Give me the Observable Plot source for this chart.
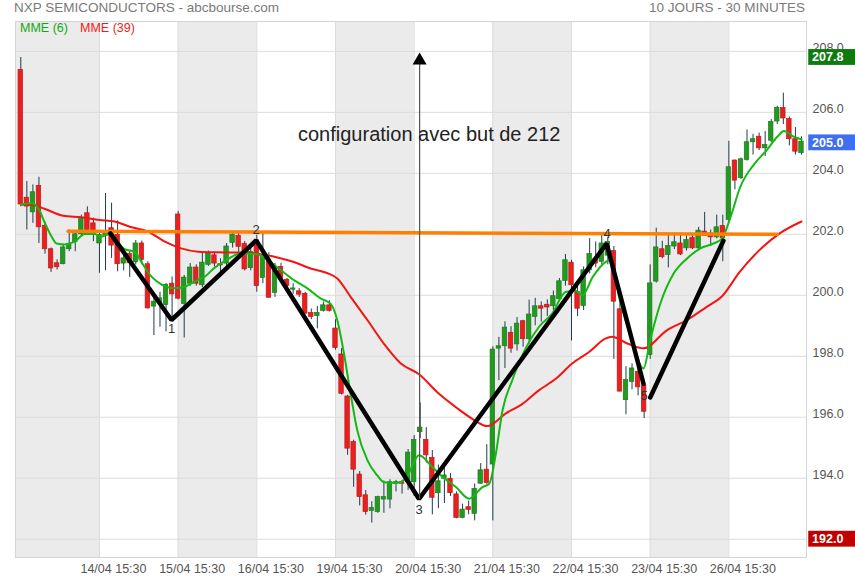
<!DOCTYPE html>
<html><head><meta charset="utf-8">
<script src="https://cdn.jsdelivr.net/npm/d3@7"></script>
<script src="https://cdn.jsdelivr.net/npm/@observablehq/plot@0.6"></script>
<style>
body{margin:0;background:#fff;font-family:Arial,"Liberation Sans",sans-serif;}
#wrap{position:relative;width:855px;height:580px;overflow:hidden;}
.ov{position:absolute;white-space:nowrap;line-height:1;}
</style></head>
<body><div id="wrap"></div>
<script>
// ---- data ----
const title = "NXP SEMICONDUCTORS - abcbourse.com";
const period = "10 JOURS - 30 MINUTES";
const legendLabels = ["MME (6)", "MME (39)"];
const note = "configuration avec but de 212";

const dayLabels = ["14/04 15:30","15/04 15:30","16/04 15:30","19/04 15:30","20/04 15:30","21/04 15:30","22/04 15:30","23/04 15:30","26/04 15:30"];
const dayStartBars = [13,26,39,52,65,78,91,104,117];
const shadedDays = [0,2,4,6,8];
const yTicks = [192,194,196,198,200,202,204,206,208];

const opens = [207.39,203.2,202.72,203.59,202.28,201.51,201.05,201.02,201.51,201.74,202.0,202.69,202.36,
201.7,201.95,202.2,201.98,201.04,201.35,201.08,201.7,201.02,199.63,199.75,199.68,200.38,
202.65,199.72,200.38,200.91,200.33,201.0,201.31,201.02,201.04,201.72,201.95,201.68,200.89,
201.8,200.57,201.17,200.08,200.93,200.51,200.19,200.13,200.05,199.42,199.32,199.49,199.67,
198.91,198.06,196.68,195.19,194.12,193.44,192.93,192.89,193.30,193.3,193.82,193.87,193.87,
193.87,195.51,195.26,194.67,193.51,193.98,193.98,193.47,192.7,193.05,192.83,193.82,194.28,
194.45,198.25,198.33,198.77,198.39,199.15,198.56,199.29,199.64,199.69,199.64,199.87,200.47,
201.07,200.11,199.65,200.82,201.2,201.1,201.3,201.45,199.54,196.56,197.16,197.49,197.05,
198.04,200.45,201.51,201.32,201.6,201.7,201.54,201.88,201.54,202.09,202.03,201.9,202.27,
202.47,204.42,203.84,204.44,205.02,205.2,204.82,205.07,205.7,206.14,205.78,205.12,204.66];
const highs = [207.8,203.73,203.62,203.87,202.4,201.55,201.16,201.65,202.14,202.09,202.63,202.9,202.53,
202.09,203.34,203.02,202.44,201.3,201.45,201.8,201.78,201.1,200.0,200.1,200.39,200.6,
202.75,200.65,201.04,201.0,201.37,201.45,201.42,201.2,201.7,202.05,202.05,201.76,201.65,
201.97,202.03,201.4,201.05,201.05,200.55,200.38,200.22,200.1,199.55,199.63,199.78,199.82,
199.2,198.25,196.72,195.25,194.22,193.6,193.23,193.41,193.91,193.95,193.93,193.93,194.94,
195.4,196.47,195.66,194.91,194.43,194.34,194.15,193.55,193.15,193.25,193.81,194.48,195.1,
198.31,198.62,199.13,198.97,199.27,199.18,199.84,199.9,199.78,199.85,200.14,200.55,201.34,
201.15,200.33,200.93,201.86,201.75,202.0,201.9,201.6,199.74,197.66,197.75,197.6,197.2,
201.0,202.2,201.77,202.0,202.0,202.0,201.98,202.0,202.23,202.72,202.14,202.63,202.63,
205.05,204.44,204.5,205.42,205.28,205.32,205.37,205.76,206.2,206.63,205.85,205.5,205.2];
const lows = [202.9,202.14,202.36,201.7,201.35,200.75,200.83,201.0,201.43,201.43,201.92,202.03,201.76,
200.72,200.81,201.21,200.77,200.8,200.58,201.0,201.0,199.55,198.68,198.95,198.8,199.24,
199.85,198.6,200.3,200.3,200.25,200.95,200.93,200.6,200.95,201.55,201.4,200.8,200.8,
200.1,200.38,199.9,199.93,200.5,200.2,200.03,199.93,199.38,199.2,198.9,199.45,199.45,
198.2,196.73,194.75,193.7,193.09,192.79,192.53,192.85,192.85,193.0,193.55,193.48,193.6,
193.4,195.3,194.5,192.8,193.0,193.17,193.4,192.67,192.67,192.8,192.6,193.8,193.8,
192.6,197.2,197.6,198.1,198.17,198.3,198.4,199.0,199.12,199.3,199.5,199.8,200.3,
198.5,199.3,199.5,200.7,200.9,201.0,201.0,197.9,196.84,196.08,196.9,196.7,195.96,
197.9,200.4,201.2,200.9,201.5,201.3,201.45,201.5,201.5,201.95,201.6,201.85,201.1,
202.4,203.46,203.8,204.4,204.6,204.75,204.55,205.0,205.6,205.6,204.9,204.6,204.6];
const closes = [202.98,202.91,203.38,202.23,201.51,200.88,200.92,201.57,201.69,202.0,202.53,202.14,201.98,
201.98,202.05,201.63,201.02,201.21,201.05,201.7,201.16,199.57,199.79,199.9,200.34,200.03,
199.89,200.58,200.91,200.38,201.07,201.37,201.04,200.98,201.6,201.99,201.59,200.85,201.42,
200.3,201.28,199.92,200.93,200.57,200.31,200.22,200.02,199.4,199.29,199.42,199.67,199.49,
198.27,196.77,194.97,194.28,193.38,192.89,193.02,193.38,193.38,193.87,193.87,193.82,194.84,
195.26,195.66,194.75,193.36,193.9,194.09,193.51,192.7,192.97,192.96,193.65,194.26,193.84,
198.22,198.33,198.94,198.25,199.07,198.56,199.37,199.64,199.56,199.6,199.97,200.46,201.15,
200.33,199.56,200.82,201.35,201.04,201.7,201.75,199.79,196.84,197.22,197.6,196.98,196.18,
200.39,201.57,201.25,201.62,201.74,201.34,201.81,201.54,202.12,201.95,201.9,202.23,201.87,
204.2,203.76,204.46,205.02,205.12,204.82,204.93,205.68,206.14,205.8,205.12,204.71,205.04];

// moving averages as drawn (bar position, value)
const mme6Bars = [0,1.8,2.9,4,5.1,5.9,7.3,8.9,10.6,12.2,13.3,14.7,15.5,17.2,18.8,19.9,21.6,23.2,25.4,27.1,28.7,30.4,32,34.1,36.3,39.1,40.7,43,45.2,47.4,49.6,51.2,52.3,53.4,54.5,55.6,57.3,58.9,60,62.2,63.6,65.8,68,69.7,71.9,74.1,76.3,77.4,78.5,79.6,81.2,83.4,85.6,87.8,90,91.7,92.8,94.5,96.6,97.4,99.1,100.8,102.9,104,105.7,107.9,110.1,112.3,114.5,115.9,117.3,118.9,121.1,123.3,125,126.1,127.7,129];
const mme6Values = [202.98,203.02,202.85,202.36,201.92,201.70,201.67,201.76,202.01,202.01,201.92,202.03,201.89,201.51,201.43,201.1,200.61,200.36,200.23,200.28,200.45,200.61,200.9,201.17,201.37,201.35,201.17,200.82,200.49,200.22,199.89,199.72,199.18,198.09,196.77,195.57,194.58,194.09,193.87,193.85,193.98,194.75,194.37,194.04,193.71,193.33,193.71,193.82,194.8,196.23,197.21,198.25,198.96,199.4,200.11,200.16,200.0,200.6,201.09,201.16,199.74,198.64,197.6,198.53,199.74,200.72,201.21,201.54,201.7,201.87,202.58,203.56,204.28,204.77,205.2,205.39,205.2,205.12];
const mme39Bars = [0,2,4,7,10,13,15.5,18,21,23.8,26.5,29.3,32,36.9,39.6,42.4,45.1,47.9,50.6,52.3,54.5,57.3,60,62.8,65.8,69.1,71.9,74.6,77.1,80.1,82.9,85.6,88.4,91.1,93.9,96.6,97.7,100.2,102.9,106.8,110.1,113.4,115.8,118.8,122.1,125.4,129];
const mme39Values = [202.98,202.96,202.83,202.61,202.56,202.47,202.42,202.25,202.09,201.76,201.54,201.43,201.41,201.4,201.35,201.24,201.09,200.88,200.73,200.55,199.95,199.18,198.41,197.76,197.41,196.77,196.33,195.95,195.71,196.12,196.44,196.88,197.26,197.76,198.14,198.58,198.64,198.42,198.26,198.86,199.19,199.63,199.95,200.77,201.49,202.03,202.42];

// drawn annotations
const resistanceBars = [7.8, 125];
const resistanceValues = [202.1, 202.0];
const zigzagBars = [14.8, 24.9, 38.9, 65.8, 96.8, 102.9];
const zigzagValues = [202.03, 199.19, 201.8, 193.32, 201.7, 197.1];
const riseBars = [104, 116.1];
const riseValues = [196.65, 201.79];
const pointLabels = ["1","2","3","4","5"];
const pointBars = [24.9, 38.9, 65.8, 96.9, 103.0];
const pointValues = [198.9, 202.15, 192.95, 202.0, 196.7];
const arrowBar = 65.9;
const arrowFrom = 193.32, arrowTo = 207.7;
const tagValues = [207.8, 205.0, 192.0];
const tagColors = ["#0f7b0f", "#3f6ef3", "#c00000"];

// ---- build ----
const candles = opens.map((o, i) => {
  const c = closes[i];
  let lo = Math.min(o, c), hi = Math.max(o, c);
  if (hi - lo < 0.04) { const m = (hi + lo) / 2; lo = m - 0.02; hi = m + 0.02; }
  return {i, open: o, close: c, high: highs[i], low: lows[i], b1: lo, b2: hi, up: c >= o};
});
const xDomain = [-0.875, 129.83];
const bands = shadedDays.map(d => ({x1: d === 0 ? xDomain[0] : d * 13, x2: (d + 1) * 13}));
const line = (xs, ys) => xs.map((x, k) => ({x, y: ys[k]}));
const ticksX = dayStartBars.map((b, k) => ({b, label: dayLabels[k]}));
const tags = tagValues.map((v, k) => ({v, color: tagColors[k]}));
const points = pointLabels.map((t, k) => ({t, x: pointBars[k], y: pointValues[k]}));

const chart = Plot.plot({
  width: 855, height: 580,
  marginTop: 21, marginBottom: 23, marginLeft: 15, marginRight: 49,
  x: {domain: xDomain, axis: null},
  y: {domain: [191.40, 208.98], axis: null},
  style: {fontFamily: "Arial, 'Liberation Sans', sans-serif", background: "white", overflow: "visible"},
  marks: [
    Plot.rect(bands, {x1: "x1", x2: "x2", fill: "#ebebeb"}),
    Plot.ruleY(yTicks, {stroke: "#dcdcdc", strokeWidth: 1}),
    Plot.ruleX(dayStartBars, {stroke: "#dcdcdc", strokeWidth: 1}),
    Plot.frame({stroke: "#d4d4d4"}),
    Plot.ruleX(candles, {x: "i", y1: "low", y2: "high", stroke: "#1e3d4f", strokeWidth: 1}),
    Plot.rect(candles, {x1: d => d.i - 0.37, x2: d => d.i + 0.37, y1: "b1", y2: "b2",
      fill: d => d.up ? "#229a22" : "#e8201f", stroke: d => d.up ? "#1a7d1a" : "#c41818", strokeWidth: 0.7}),
    Plot.line(line(mme39Bars, mme39Values), {x: "x", y: "y", stroke: "#f41414", strokeWidth: 2, curve: "monotone-x"}),
    Plot.line(line(mme6Bars, mme6Values), {x: "x", y: "y", stroke: "#14b814", strokeWidth: 2, curve: "monotone-x"}),
    Plot.line(line(resistanceBars, resistanceValues), {x: "x", y: "y", stroke: "#ff8000", strokeWidth: 3.5}),
    Plot.line(line(zigzagBars, zigzagValues), {x: "x", y: "y", stroke: "#000", strokeWidth: 4.5, strokeLinejoin: "miter"}),
    Plot.line(line(riseBars, riseValues), {x: "x", y: "y", stroke: "#000", strokeWidth: 4.5}),
    Plot.ruleX([arrowBar], {y1: arrowFrom, y2: arrowTo, stroke: "#555", strokeWidth: 1.2}),
    Plot.dot([arrowBar], {x: d => d, y: arrowTo, symbol: "triangle", r: 5.2, fill: "#000", stroke: "none"}),
    Plot.text(points, {x: "x", y: "y", text: "t", fill: "#333", fontSize: 13}),
    Plot.axisY(yTicks.filter(v => v !== 192), {anchor: "right", tickSize: 0, tickPadding: 6, dy: -3, fontSize: 12.5, fill: "#555", tickFormat: d => d.toFixed(1)}),
    Plot.rect(tags, {x1: 130.2, x2: 138, y1: d => d.v - 0.26, y2: d => d.v + 0.26, fill: "color"}),
    Plot.text(tags, {x: 130.75, y: "v", text: d => d.v.toFixed(1), fill: "white", fontSize: 12.5, fontWeight: "bold", textAnchor: "start"}),
    Plot.text(ticksX, {x: "b", text: "label", frameAnchor: "bottom", dx: 14, dy: 15, fontSize: 12.5, fill: "#555"})
  ]
});

const wrap = document.getElementById("wrap");
wrap.appendChild(chart);
function ov(text, css) { const d = document.createElement("div"); d.className = "ov"; d.textContent = text; d.style.cssText += css; wrap.appendChild(d); }
ov(title, "left:14px;top:1px;font-size:13.5px;color:#7a7a7a;");
ov(period, "right:50px;top:1px;font-size:13.5px;color:#7a7a7a;");
ov(legendLabels[0], "left:20px;top:22px;font-size:12.5px;color:#10a810;");
ov(legendLabels[1], "left:80px;top:22px;font-size:12.5px;color:#f01a1a;");
ov(note, "left:298px;top:124px;font-size:20px;color:#222;");
</script></body></html>
